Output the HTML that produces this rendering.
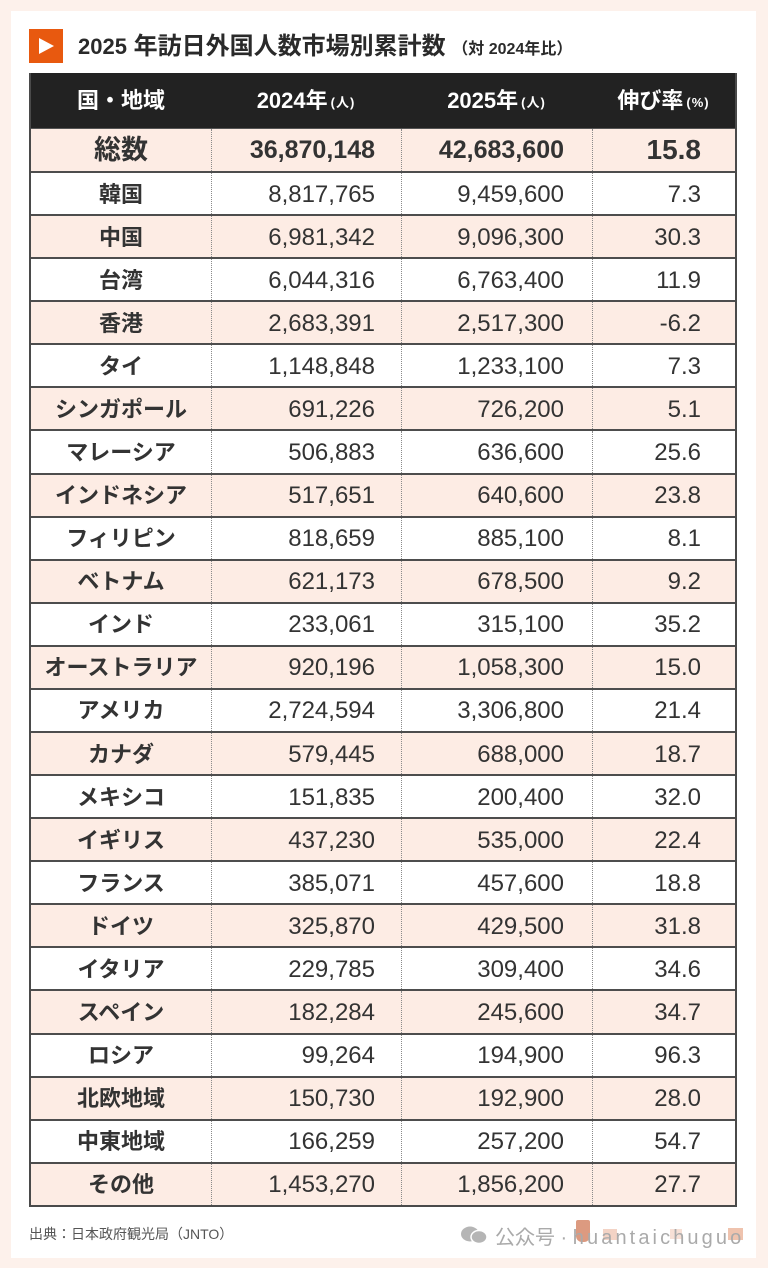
<!DOCTYPE html>
<html>
<head>
<meta charset="utf-8">
<style>
  html, body { margin:0; padding:0; }
  body { width:768px; height:1268px; background:#fdf1eb; position:relative; overflow:hidden;
         font-family:"Liberation Sans","Noto Sans CJK JP",sans-serif; color:#333; }
  .card { position:absolute; left:11px; top:11px; width:745px; height:1247px; background:#fff; }
  .icon { position:absolute; left:29px; top:29px; width:34px; height:34px; background:#e8590f; }
  .icon:after { content:""; position:absolute; left:10px; top:9px; width:0; height:0;
                border-top:8px solid transparent; border-bottom:8px solid transparent; border-left:15px solid #fff; }
  .title { position:absolute; left:78px; top:31px; height:32px; line-height:32px; font-size:24px; font-weight:bold; color:#2a2a2a; white-space:nowrap; }
  .title .n { font-size:22px; }
  .title .s { font-size:16px; }
  .tbl { position:absolute; left:29px; top:73px; width:708px; height:1134px; display:flex; flex-direction:column;
         border-left:2px solid #4a4a4a; border-right:2px solid #4a4a4a; border-bottom:2px solid #4a4a4a; box-sizing:border-box; }
  .row { display:flex; box-sizing:border-box; }
  .hd { height:55px; background:#222; color:#fff; font-weight:bold; font-size:22px; }
  .tot { height:43px; background:#fdece4; border-top:1px solid #555; }
  .r { flex:1; border-top:2px solid #4d4d4d; }
  .p { background:#fdece4; }
  .c { display:flex; align-items:center; box-sizing:border-box; line-height:1; white-space:nowrap; }
  .r .c { padding-top:2px; }
  .c1 { width:180px; justify-content:center; font-weight:bold; font-size:22px; }
  .c2 { width:190px; justify-content:flex-end; padding-right:26px; font-size:24px; }
  .c3 { width:191px; justify-content:flex-end; padding-right:28px; font-size:24px; }
  .c4 { flex:1; justify-content:flex-end; padding-right:34px; font-size:24px; }
  .tot .c2, .tot .c3, .r .c2, .r .c3, .r .c4, .tot .c4 { border-left:1px dotted #8a8a8a; }
  .hd .c2, .hd .c3, .hd .c4 { justify-content:center; padding-right:0; font-weight:bold; font-size:22px; }
  .hd .sm { font-size:13px; font-weight:bold; margin-top:4px; margin-left:3px; letter-spacing:1px; }
  .tot .c1 { font-size:27px; }
  .tot .c2, .tot .c3 { font-weight:bold; font-size:25px; }
  .tot .c4 { font-weight:bold; font-size:28px; padding-right:34px; }
  .foot { position:absolute; left:29px; top:1224px; font-size:14px; color:#555; white-space:nowrap; }
  .wm { position:absolute; left:495px; top:1226px; font-size:20px; color:#aaa; white-space:nowrap; line-height:24px; }
  .wm .lat { letter-spacing:3.1px; }
</style>
</head>
<body>
<div class="card"></div>
<div class="icon"></div>
<div class="title"><span class="n">2025</span> 年訪日外国人数市場別累計数 <span class="s">（対 2024年比）</span></div>

<div class="tbl">
  <div class="row hd">
    <div class="c c1">国・地域</div>
    <div class="c c2">2024年<span class="sm">(人)</span></div>
    <div class="c c3">2025年<span class="sm">(人)</span></div>
    <div class="c c4">伸び率<span class="sm">(%)</span></div>
  </div>
  <div class="row tot">
    <div class="c c1">総数</div>
    <div class="c c2">36,870,148</div>
    <div class="c c3">42,683,600</div>
    <div class="c c4">15.8</div>
  </div>
  <div class="row r"><div class="c c1">韓国</div><div class="c c2">8,817,765</div><div class="c c3">9,459,600</div><div class="c c4">7.3</div></div>
  <div class="row r p"><div class="c c1">中国</div><div class="c c2">6,981,342</div><div class="c c3">9,096,300</div><div class="c c4">30.3</div></div>
  <div class="row r"><div class="c c1">台湾</div><div class="c c2">6,044,316</div><div class="c c3">6,763,400</div><div class="c c4">11.9</div></div>
  <div class="row r p"><div class="c c1">香港</div><div class="c c2">2,683,391</div><div class="c c3">2,517,300</div><div class="c c4">-6.2</div></div>
  <div class="row r"><div class="c c1">タイ</div><div class="c c2">1,148,848</div><div class="c c3">1,233,100</div><div class="c c4">7.3</div></div>
  <div class="row r p"><div class="c c1">シンガポール</div><div class="c c2">691,226</div><div class="c c3">726,200</div><div class="c c4">5.1</div></div>
  <div class="row r"><div class="c c1">マレーシア</div><div class="c c2">506,883</div><div class="c c3">636,600</div><div class="c c4">25.6</div></div>
  <div class="row r p"><div class="c c1">インドネシア</div><div class="c c2">517,651</div><div class="c c3">640,600</div><div class="c c4">23.8</div></div>
  <div class="row r"><div class="c c1">フィリピン</div><div class="c c2">818,659</div><div class="c c3">885,100</div><div class="c c4">8.1</div></div>
  <div class="row r p"><div class="c c1">ベトナム</div><div class="c c2">621,173</div><div class="c c3">678,500</div><div class="c c4">9.2</div></div>
  <div class="row r"><div class="c c1">インド</div><div class="c c2">233,061</div><div class="c c3">315,100</div><div class="c c4">35.2</div></div>
  <div class="row r p"><div class="c c1">オーストラリア</div><div class="c c2">920,196</div><div class="c c3">1,058,300</div><div class="c c4">15.0</div></div>
  <div class="row r"><div class="c c1">アメリカ</div><div class="c c2">2,724,594</div><div class="c c3">3,306,800</div><div class="c c4">21.4</div></div>
  <div class="row r p"><div class="c c1">カナダ</div><div class="c c2">579,445</div><div class="c c3">688,000</div><div class="c c4">18.7</div></div>
  <div class="row r"><div class="c c1">メキシコ</div><div class="c c2">151,835</div><div class="c c3">200,400</div><div class="c c4">32.0</div></div>
  <div class="row r p"><div class="c c1">イギリス</div><div class="c c2">437,230</div><div class="c c3">535,000</div><div class="c c4">22.4</div></div>
  <div class="row r"><div class="c c1">フランス</div><div class="c c2">385,071</div><div class="c c3">457,600</div><div class="c c4">18.8</div></div>
  <div class="row r p"><div class="c c1">ドイツ</div><div class="c c2">325,870</div><div class="c c3">429,500</div><div class="c c4">31.8</div></div>
  <div class="row r"><div class="c c1">イタリア</div><div class="c c2">229,785</div><div class="c c3">309,400</div><div class="c c4">34.6</div></div>
  <div class="row r p"><div class="c c1">スペイン</div><div class="c c2">182,284</div><div class="c c3">245,600</div><div class="c c4">34.7</div></div>
  <div class="row r"><div class="c c1">ロシア</div><div class="c c2">99,264</div><div class="c c3">194,900</div><div class="c c4">96.3</div></div>
  <div class="row r p"><div class="c c1">北欧地域</div><div class="c c2">150,730</div><div class="c c3">192,900</div><div class="c c4">28.0</div></div>
  <div class="row r"><div class="c c1">中東地域</div><div class="c c2">166,259</div><div class="c c3">257,200</div><div class="c c4">54.7</div></div>
  <div class="row r p"><div class="c c1">その他</div><div class="c c2">1,453,270</div><div class="c c3">1,856,200</div><div class="c c4">27.7</div></div>
</div>

<div class="foot">出典：日本政府観光局（JNTO）</div>

<svg style="position:absolute;left:460px;top:1226px" width="30" height="18" viewBox="0 0 30 18">
  <ellipse cx="10" cy="8" rx="9" ry="7.5" fill="#b5b5b5"/>
  <ellipse cx="19" cy="11" rx="8" ry="6.5" fill="#b5b5b5" stroke="#fff" stroke-width="1.5"/>
</svg>
<div style="position:absolute;left:576px;top:1220px;width:14px;height:22px;background:#dc9a80;border-radius:2px 2px 6px 6px;"></div>
<div style="position:absolute;left:603px;top:1229px;width:14px;height:11px;background:#f3d3c5;"></div>
<div style="position:absolute;left:670px;top:1229px;width:12px;height:10px;background:#f7e0d6;"></div>
<div style="position:absolute;left:728px;top:1228px;width:15px;height:12px;background:#efc3ae;"></div>
<div class="wm">公众号 · <span class="lat">huantaichuguo</span></div>
</body>
</html>
